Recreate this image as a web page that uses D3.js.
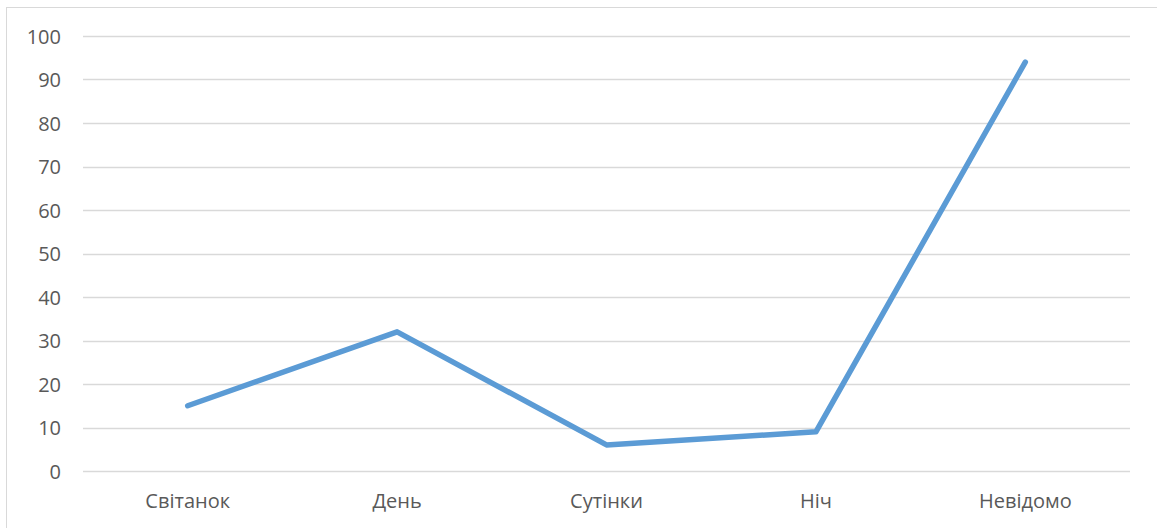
<!DOCTYPE html>
<html>
<head>
<meta charset="utf-8">
<script src="https://cdn.jsdelivr.net/npm/d3@7"></script>
<style>
  body { margin: 0; background: #fff; }
  svg { display: block; }
  text { font-family: "Open Sans", "Noto Sans", sans-serif; fill: #595959; }
</style>
</head>
<body>
<svg id="chart" width="1157" height="528"></svg>
<script>
var categories = ["Світанок", "День", "Сутінки", "Ніч", "Невідомо"];
var values = [15, 32, 6, 9, 94];
var yTicks = [0, 10, 20, 30, 40, 50, 60, 70, 80, 90, 100];

var svg = d3.select("#chart");
var plotLeft = 83, plotRight = 1130, plotTop = 36, plotBottom = 471;

// рамка
svg.append("rect")
  .attr("x", 6.5).attr("y", 7.5)
  .attr("width", 1160).attr("height", 530)
  .attr("fill", "none")
  .attr("stroke", "#d9d9d9")
  .attr("stroke-width", 1);

var x = d3.scaleBand().domain(categories).range([plotLeft, plotRight]);
var y = d3.scaleLinear().domain([0, 100]).range([plotBottom, plotTop]);

// сітка
svg.append("g")
  .selectAll("line")
  .data(yTicks)
  .enter()
  .append("line")
  .attr("x1", plotLeft).attr("x2", plotRight)
  .attr("y1", function(d){ return Math.round(y(d)) + 0.5; })
  .attr("y2", function(d){ return Math.round(y(d)) + 0.5; })
  .attr("stroke", "#d9d9d9")
  .attr("stroke-width", 1.3);

// осі
var yAxis = svg.append("g")
  .attr("transform", "translate(" + 61 + ",0)")
  .call(d3.axisLeft(y).tickValues(yTicks).tickSize(0).tickPadding(0));
yAxis.select(".domain").remove();
yAxis.selectAll("text")
  .attr("font-size", "20px")
  .attr("dy", "0.35em")
  .style("font-family", "'Open Sans', sans-serif")
  .attr("fill", "#595959");

var xAxis = svg.append("g")
  .attr("transform", "translate(0," + plotBottom + ")")
  .call(d3.axisBottom(x).tickSize(0).tickPadding(23));
xAxis.select(".domain").remove();
xAxis.selectAll("text")
  .attr("font-size", "20px")
  .style("font-family", "'Open Sans', sans-serif")
  .attr("fill", "#595959");

// лінія
var line = d3.line()
  .x(function(d, i){ return x(categories[i]) + x.bandwidth() / 2; })
  .y(function(d){ return y(d); });

svg.append("path")
  .datum(values)
  .attr("d", line)
  .attr("fill", "none")
  .attr("stroke", "#5b9bd5")
  .attr("stroke-width", 5.5)
  .attr("stroke-linecap", "round")
  .attr("stroke-linejoin", "round");
</script>
</body>
</html>
